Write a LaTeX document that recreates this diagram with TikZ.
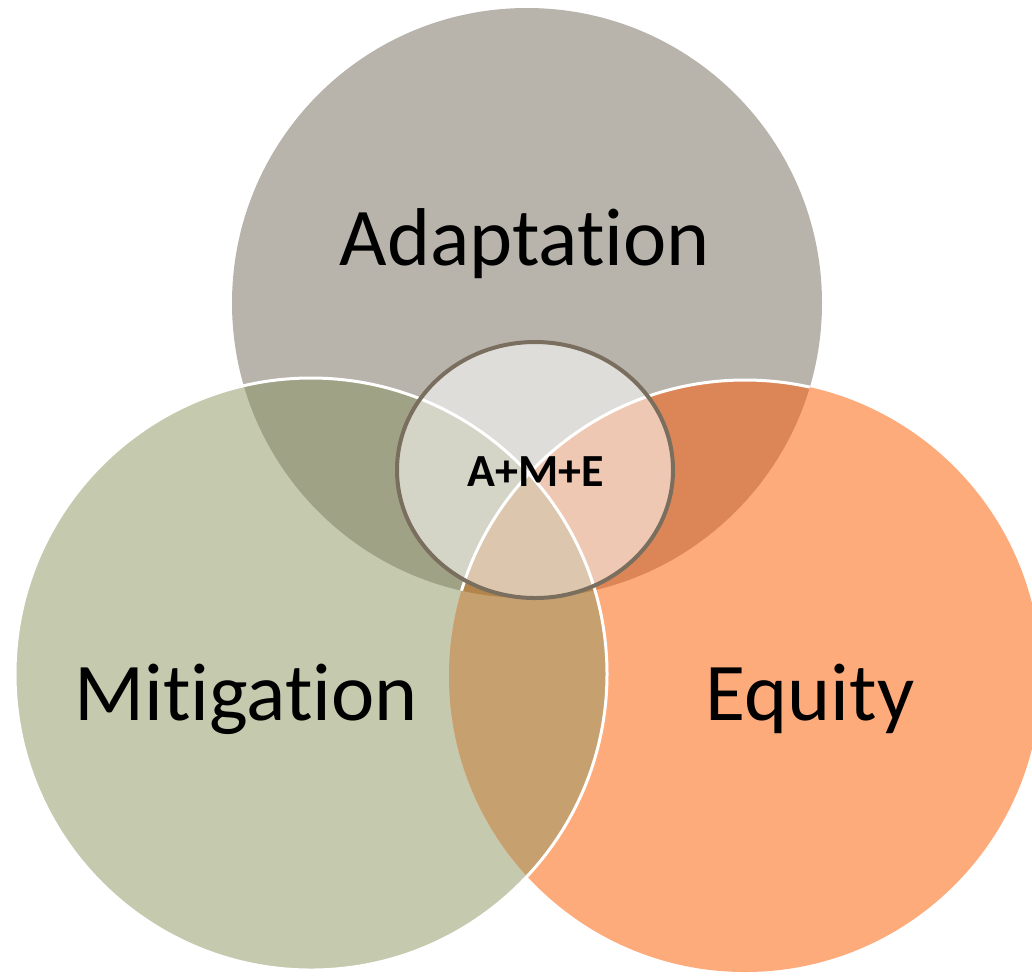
\documentclass[tikz,border=0pt]{standalone}
\usepackage{fontspec}
\setmainfont[Ligatures=NoCommon]{Carlito}
\usepackage{xcolor}
\definecolor{adapt}{HTML}{B8B4AC}
\definecolor{mitig}{HTML}{C5C9AE}
\definecolor{equid}{HTML}{FEAB7C}
\definecolor{adaptmitig}{HTML}{A0A285}
\definecolor{adaptequid}{HTML}{DC8657}
\definecolor{mitigequid}{HTML}{C6A06E}
\definecolor{todos}{HTML}{B2854C}
\definecolor{borde}{HTML}{7A6E5E}
\newcommand{\sinlig}{\kern0pt} % evita la ligadura ti
\tikzset{
  etiqueta/.style={anchor=base,text=black,font=\fontsize{41}{45}\selectfont},
  bordeblanco/.style={draw=white,line width=1.5pt}
}
\begin{document}
\begin{tikzpicture}[x=0.5pt,y=-0.5pt]
            \useasboundingbox (0,0) rectangle (1032,976);
            \coordinate (cA) at (527,303); % Adaptation
            \coordinate (cM) at (311,674); % Mitigation
            \coordinate (cE) at (745,676); % Equity
            \coordinate (cC) at (535,470); % centro
            \fill[adapt] (cA) circle[radius=295];
            \fill[mitig] (cM) circle[radius=296];
            \fill[equid] (cE) circle[radius=296];
            \begin{scope} \clip (cA) circle[radius=295]; \fill[adaptmitig] (cM) circle[radius=296]; \end{scope}
            \begin{scope} \clip (cA) circle[radius=295]; \fill[adaptequid] (cE) circle[radius=296]; \end{scope}
            \begin{scope} \clip (cM) circle[radius=296]; \fill[mitigequid] (cE) circle[radius=296]; \end{scope}
            \begin{scope} \clip (cA) circle[radius=295]; \clip (cM) circle[radius=296]; \fill[todos] (cE) circle[radius=296]; \end{scope}
            \draw[bordeblanco] (cM) circle[radius=296];
            \begin{scope} \clip (cA) circle[radius=295]; \draw[bordeblanco] (cE) circle[radius=296]; \end{scope}
            \fill[white,opacity=0.55] (cC) ellipse[x radius=138,y radius=128];
            \draw[borde,line width=2pt] (cC) ellipse[x radius=138,y radius=128];
            \node[etiqueta] (adaptacion) at (525,265) {Adaptat\sinlig ion};
            \node[etiqueta] (mitigacion) at (246,720) {Mit\sinlig igat\sinlig ion};
            \node[etiqueta] (equidad) at (810,720) {Equity};
            \node[text=black,font=\bfseries\fontsize{23}{27}\selectfont] (ame) at (536,472) {A+M+E};
            \end{tikzpicture}
\end{document}
